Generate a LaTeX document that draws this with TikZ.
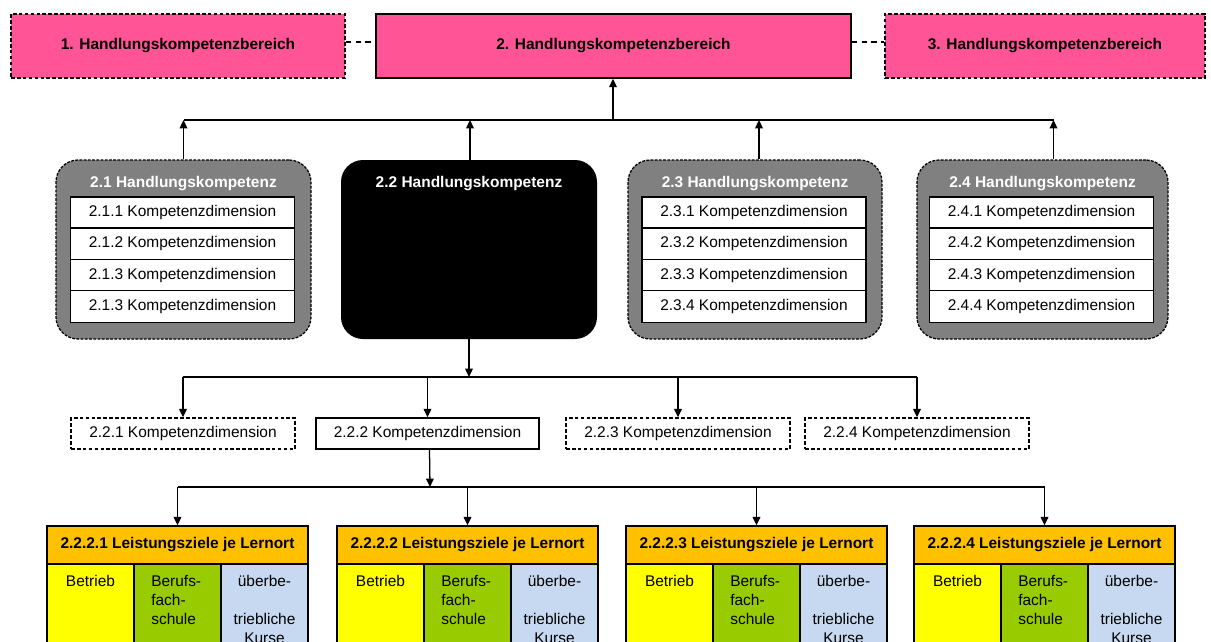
\documentclass[tikz,border=0pt]{standalone}
\usepackage{fontspec}
\setmainfont{Liberation Sans}
\usetikzlibrary{arrows.meta,fit,calc}
\definecolor{hkpink}{RGB}{255, 85, 150}
\definecolor{hkgray}{RGB}{128, 128, 128}
\definecolor{hkorange}{RGB}{255, 192, 0}
\definecolor{hkyellow}{RGB}{255, 255, 0}
\definecolor{hkgreen}{RGB}{153, 204, 0}
\definecolor{hkblue}{RGB}{198, 217, 241}
\newcommand{\hksize}{\fontsize{11}{13.5}\selectfont}
\tikzset{
  >={Triangle[length=6pt,width=5.5pt]},
  conn/.style={line width=0.9pt},
  loose/.style={dash pattern=on 2.6pt off 1.6pt},
  bereich/.style={draw, fill=hkpink, line width=1.1pt, inner sep=0pt, font=\hksize\bfseries},
  kompetenz/.style={draw, fill=hkgray, rounded corners=0.55cm, line width=0.9pt, dash pattern=on 2pt off 1pt, inner sep=0pt},
  kernbox/.style={fill=black, rounded corners=0.55cm, inner sep=0pt},
  ktitle/.style={text=white, inner sep=0pt, font=\hksize\bfseries},
  dimbox/.style={draw, fill=white, line width=1pt, minimum width=5.6cm, minimum height=0.79cm, inner sep=0pt},
  dimrow/.style={draw, fill=white, line width=1pt, inner sep=0pt},
  lzhead/.style={draw, fill=hkorange, line width=1pt, inner sep=0pt, font=\hksize\bfseries},
  lzcol/.style={draw, line width=1pt, inner sep=0pt},
  lztext/.style={inner sep=0pt, font=\hksize},
}
% box between two corners, in pixels: [style] name, x1, y1, x2, y2, text
\newcommand{\pbox}[7][]{
  \node[#1, minimum width={(#5-#3)*0.025cm}, minimum height={(#6-#4)*0.025cm}]
    (#2) at ({(#3+#5)/2},{(#4+#6)/2}) {#7};
}
% #1 name, #2 left, #3 right, #4 number, #5 digits of the rows
\newcommand{\handlung}[5]{
  \node[kompetenz, fit={(#2,160) (#3,339)}] (#1) {};
  \node[ktitle] (#1t) at ({(#2+#3)/2},184) {#4 Handlungskompetenz};
  \foreach \dm [count=\i] in {#5}
    \node[dimbox] (#1d\i) at ({(#2+#3)/2-1},{181.3+31.3*\i}) {#4.\dm\ Kompetenzdimension};
}
% #1 name, #2 left edge, #3 number
\newcommand{\lernort}[3]{
  \pbox[lzhead]{#1}{#2}{526}{#2+261}{564}{#3 Leistungsziele je Lernort}
  \node[lzcol, fill=hkyellow, fit={(#2,564) (#2+87,690)}] (#1a) {};
  \node[lzcol, fill=hkgreen, fit={(#2+87,564) (#2+174,690)}] (#1b) {};
  \node[lzcol, fill=hkblue, fit={(#2+174,564) (#2+261,690)}] (#1c) {};
  \node[lztext, anchor=north] (#1at) at (#2+43.5,575) {Betrieb};
  \node[lztext, anchor=north west, align=left] (#1bt) at (#2+104,575) {Berufs-\\fach-\\schule};
  \node[lztext, anchor=north, align=center] (#1ct) at (#2+217.5,575) {überbe-\\\mbox{}\\triebliche\\Kurse};
}

\begin{document}
\begin{tikzpicture}[x=0.025cm, y=-0.025cm, font=\hksize]
  \useasboundingbox (0,0) rectangle (1211,641);

  % Handlungskompetenzbereiche
  \pbox[bereich, loose]{hkb1}{11}{14}{345}{78}{1. Handlungskompetenzbereich}
  \pbox[bereich]{hkb2}{376}{14}{851}{78}{2. Handlungskompetenzbereich}
  \pbox[bereich, loose]{hkb3}{885}{14}{1205}{78}{3. Handlungskompetenzbereich}
  \draw[conn, dash pattern=on 4pt off 3pt] ($(hkb1.east)+(0,-4)$) -- ($(hkb2.west)+(0,-4)$);
  \draw[conn, dash pattern=on 4pt off 3pt] ($(hkb2.east)+(0,-4)$) -- ($(hkb3.west)+(0,-4)$);

  % Handlungskompetenzen
  \handlung{hk21}{56}{311}{2.1}{1,2,3,3}
  \node[kernbox, fit={(341,160) (597,339)}] (hk22) {};
  \node[ktitle] (hk22t) at (469,184) {2.2 Handlungskompetenz};
  \handlung{hk23}{628}{882}{2.3}{1,2,3,4}
  \handlung{hk24}{917}{1168}{2.4}{1,2,3,4}

  \coordinate (bus1) at (613,120);
  \draw[conn] (hk21.north |- bus1) -- ($(hk24.north |- bus1)+(11,0)$);
  \draw[conn,->] (bus1) -- (bus1 |- hkb2.south);
  \foreach \k/\dx in {hk21/0, hk22/1, hk23/4, hk24/11}
    \draw[conn,->] ($(\k.north)+(\dx,0)$) -- ($(\k.north |- bus1)+(\dx,0)$);

  % Kompetenzdimensionen
  \pbox[dimrow, loose]{kd221}{71}{418}{295}{449}{2.2.1 Kompetenzdimension}
  \pbox[dimrow]{kd222}{316}{418}{539}{449}{2.2.2 Kompetenzdimension}
  \pbox[dimrow, loose]{kd223}{566}{418}{790}{449}{2.2.3 Kompetenzdimension}
  \pbox[dimrow, loose]{kd224}{805}{418}{1029}{449}{2.2.4 Kompetenzdimension}

  \coordinate (bus2) at (469,377);
  \draw[conn,->] (hk22.south) -- (bus2);
  \draw[conn] (kd221.north |- bus2) -- (kd224.north |- bus2);
  \foreach \k in {kd221,kd222,kd223,kd224}
    \draw[conn,->] (\k.north |- bus2) -- (\k.north);

  % Leistungsziele
  \lernort{lz1}{47}{2.2.2.1}
  \lernort{lz2}{337}{2.2.2.2}
  \lernort{lz3}{626}{2.2.2.3}
  \lernort{lz4}{914}{2.2.2.4}

  \coordinate (bus3) at (430,487);
  \draw[conn,->] ($(kd222.south)+(2,0)$) -- (bus3);
  \draw[conn] (lz1.north |- bus3) -- (lz4.north |- bus3);
  \foreach \k in {lz1,lz2,lz3,lz4}
    \draw[conn,->] (\k.north |- bus3) -- (\k.north);
\end{tikzpicture}
\end{document}
